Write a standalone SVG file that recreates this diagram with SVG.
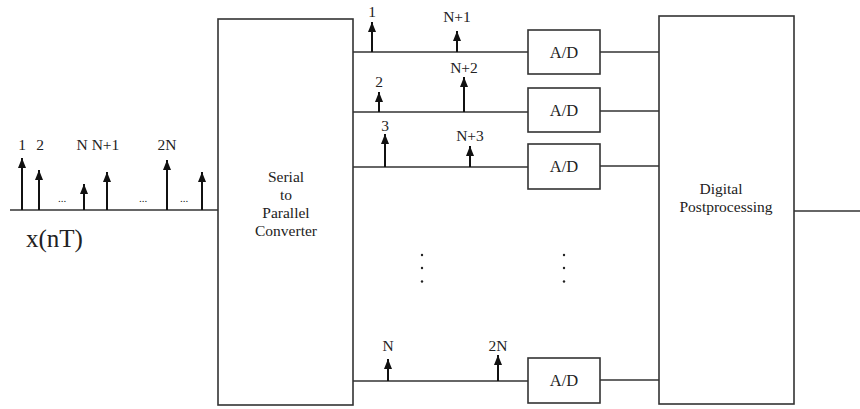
<svg xmlns="http://www.w3.org/2000/svg" width="860" height="409" viewBox="0 0 860 409">
<style>
.box{fill:#fff;stroke:#333;stroke-width:1.6}
.ln{stroke:#333;stroke-width:1.5;fill:none}
.st{stroke:#111;stroke-width:2;fill:none;marker-end:url(#ah)}
.t{font-family:"Liberation Serif","Times New Roman",serif;fill:#222;text-anchor:middle}
.lb{font-size:15.5px}
.bt{font-size:16.5px}
.bl{font-size:15.5px}
</style>
<defs>
<marker id="ah" viewBox="0 0 10 8" refX="10" refY="4" markerWidth="10" markerHeight="8" markerUnits="userSpaceOnUse" orient="auto">
<path d="M0,0 L10,4 L0,8 Z" fill="#111"/>
</marker>
</defs>
<g id="connectors">
<line class="ln" x1="10" y1="210" x2="218" y2="210"/>
<line class="ln" x1="353" y1="52" x2="528" y2="52"/>
<line class="ln" x1="353" y1="112" x2="528" y2="112"/>
<line class="ln" x1="353" y1="167" x2="528" y2="167"/>
<line class="ln" x1="353" y1="381" x2="528" y2="381"/>
<line class="ln" x1="600" y1="52" x2="659" y2="52"/>
<line class="ln" x1="600" y1="111" x2="659" y2="111"/>
<line class="ln" x1="600" y1="166" x2="659" y2="166"/>
<line class="ln" x1="600" y1="380" x2="659" y2="380"/>
<line class="ln" x1="794" y1="211" x2="860" y2="211"/>
</g>
<g id="input-samples">
<line class="st" x1="22" y1="210" x2="22" y2="158"/>
<line class="st" x1="39" y1="210" x2="39" y2="170"/>
<line class="st" x1="84" y1="210" x2="84" y2="184"/>
<line class="st" x1="107" y1="210" x2="107" y2="172"/>
<line class="st" x1="167" y1="210" x2="167" y2="160"/>
<line class="st" x1="202" y1="210" x2="202" y2="172"/>
<text class="t lb" x="22" y="150">1</text>
<text class="t lb" x="40" y="150">2</text>
<text class="t lb" x="98" y="150">N N+1</text>
<text class="t lb" x="167" y="150">2N</text>
<text class="t" style="font-size:11px" x="62" y="202">...</text>
<text class="t" style="font-size:11px" x="143" y="202">...</text>
<text class="t" style="font-size:11px" x="184" y="202">...</text>
<text class="t" style="font-size:25px;text-anchor:start" x="26" y="247">x(nT)</text>
</g>
<g id="channel-samples">
<line class="st" x1="372" y1="52" x2="372" y2="22"/>
<line class="st" x1="457" y1="52" x2="457" y2="31"/>
<text class="t lb" x="372" y="17">1</text>
<text class="t lb" x="457" y="22">N+1</text>
<line class="st" x1="379" y1="112" x2="379" y2="92"/>
<line class="st" x1="464" y1="112" x2="464" y2="77"/>
<text class="t lb" x="379" y="87">2</text>
<text class="t lb" x="464" y="73">N+2</text>
<line class="st" x1="385" y1="167" x2="385" y2="134"/>
<line class="st" x1="470" y1="167" x2="470" y2="146"/>
<text class="t lb" x="385" y="131">3</text>
<text class="t lb" x="470" y="141">N+3</text>
<line class="st" x1="388" y1="381" x2="388" y2="359"/>
<line class="st" x1="498" y1="381" x2="498" y2="355"/>
<text class="t lb" x="388" y="351">N</text>
<text class="t lb" x="498" y="351">2N</text>
<circle cx="422" cy="255" r="1.2" fill="#222"/>
<circle cx="422" cy="268" r="1.2" fill="#222"/>
<circle cx="422" cy="281.5" r="1.2" fill="#222"/>
<circle cx="564" cy="255" r="1.2" fill="#222"/>
<circle cx="564" cy="268" r="1.2" fill="#222"/>
<circle cx="564" cy="281.5" r="1.2" fill="#222"/>
</g>
<g id="serial-to-parallel">
<rect class="box" x="218" y="19" width="135" height="386"/>
<text class="t bl" x="286" y="182">Serial</text>
<text class="t bl" x="286" y="200">to</text>
<text class="t bl" x="286" y="218">Parallel</text>
<text class="t bl" x="286" y="236">Converter</text>
</g>
<g id="ad1"><rect class="box" x="528" y="30" width="72" height="44"/><text class="t bt" x="564" y="58">A/D</text></g>
<g id="ad2"><rect class="box" x="528" y="88" width="72" height="44"/><text class="t bt" x="564" y="116">A/D</text></g>
<g id="ad3"><rect class="box" x="528" y="144" width="72" height="45"/><text class="t bt" x="564" y="172">A/D</text></g>
<g id="adN"><rect class="box" x="528" y="358" width="72" height="45"/><text class="t bt" x="564" y="386">A/D</text></g>
<g id="digital-postprocessing">
<rect class="box" x="659" y="16" width="135" height="388"/>
<text class="t bl" x="721" y="194">Digital</text>
<text class="t bl" x="726" y="212">Postprocessing</text>
</g>
</svg>
